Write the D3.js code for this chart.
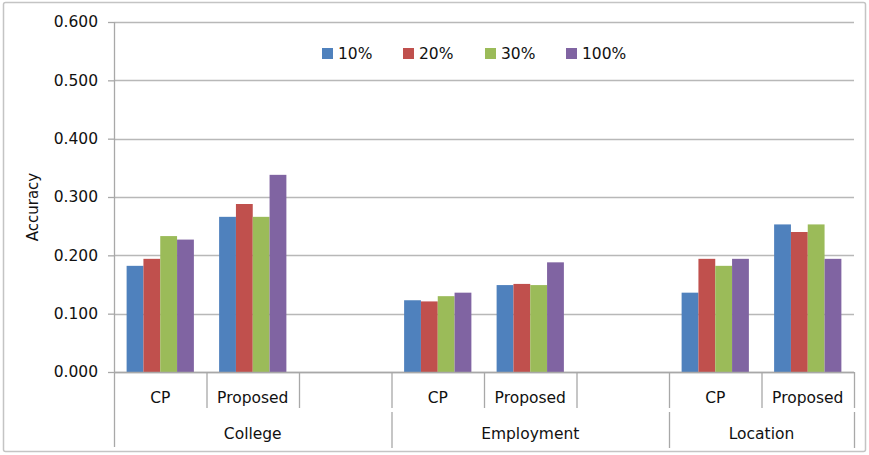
<!DOCTYPE html>
<html>
<head>
<meta charset="utf-8">
<script src="https://cdn.jsdelivr.net/npm/d3@7"></script>
<style>
  html, body { margin: 0; padding: 0; background: #fff; }
  svg { display: block; font-family: "DejaVu Sans", sans-serif; }
</style>
</head>
<body>
<svg id="chart" width="869" height="455"></svg>
<script>
// ---- data ----
const groups = ["College", "Employment", "Location"];
const subCategories = [["CP", "Proposed", ""], ["CP", "Proposed", ""], ["CP", "Proposed"]];
const seriesNames = ["10%", "20%", "30%", "100%"];
const seriesColors = ["#4F81BD", "#C0504D", "#9BBB59", "#8064A2"];
// values per series, in slot order: College CP, College Proposed, Employment CP, Employment Proposed, Location CP, Location Proposed
const s10  = [0.182, 0.266, 0.123, 0.149, 0.136, 0.253];
const s20  = [0.194, 0.288, 0.121, 0.151, 0.194, 0.240];
const s30  = [0.233, 0.266, 0.130, 0.149, 0.182, 0.253];
const s100 = [0.227, 0.338, 0.136, 0.188, 0.194, 0.194];
const seriesValues = [s10, s20, s30, s100];
const yTicks = [0, 0.1, 0.2, 0.3, 0.4, 0.5, 0.6];
const yTitle = "Accuracy";

// ---- layout ----
const svg = d3.select("#chart");
const mLeft = 114, mRight = 854, mTop = 22, mBottom = 372;

// slots
const slots = [];
groups.forEach((g, gi) => subCategories[gi].forEach((s, si) => slots.push({id: gi + "-" + si, group: g, gi, si, label: s})));
const dataSlots = slots.filter(s => s.label !== "");

const x = d3.scaleBand().domain(slots.map(s => s.id)).range([mLeft, mRight]).padding(0);
const xs = d3.scaleBand().domain(seriesNames).range([0, x.bandwidth()]).paddingInner(0).paddingOuter(0.75);
const y = d3.scaleLinear().domain([0, 0.6]).range([mBottom, mTop]);

// outer border
svg.append("rect").attr("x", 3.5).attr("y", 2.5).attr("width", 862).attr("height", 449)
  .attr("fill", "none").attr("stroke", "#c4c4c4").attr("stroke-width", 1.5).attr("rx", 2);

// gridlines
svg.append("g").selectAll("line").data(yTicks).join("line")
  .attr("x1", mLeft).attr("x2", mRight)
  .attr("y1", d => Math.round(y(d)) + 0.5).attr("y2", d => Math.round(y(d)) + 0.5)
  .attr("stroke", "#b8b8b8").attr("stroke-width", 1.3);

// y axis
const yAxis = d3.axisLeft(y).tickValues(yTicks).tickFormat(d3.format(".3f")).tickSize(6).tickPadding(10);
const ya = svg.append("g").attr("transform", `translate(${mLeft},0)`).call(yAxis);
ya.select(".domain").remove();
ya.selectAll(".tick line").attr("stroke", "#a8a8a8").attr("stroke-width", 1.3);
ya.selectAll(".tick text").attr("font-size", "15.5px").attr("fill", "#111").attr("font-family", "DejaVu Sans");

// y axis line (extends through category area)
svg.append("line").attr("x1", mLeft + 0.5).attr("x2", mLeft + 0.5).attr("y1", mTop).attr("y2", 447)
  .attr("stroke", "#a8a8a8").attr("stroke-width", 1.3);

// bars
const bars = svg.append("g");
dataSlots.forEach((slot, k) => {
  bars.selectAll(null).data(seriesNames.map((n, i) => ({n, i, v: seriesValues[i][k]}))).join("rect")
    .attr("x", d => x(slot.id) + xs(d.n))
    .attr("width", xs.bandwidth())
    .attr("y", d => y(d.v))
    .attr("height", d => y(0) - y(d.v))
    .attr("fill", d => seriesColors[d.i]);
});

// category axis line
svg.append("line").attr("x1", mLeft).attr("x2", mRight).attr("y1", mBottom + 0.5).attr("y2", mBottom + 0.5)
  .attr("stroke", "#a8a8a8").attr("stroke-width", 1.3);

// sub-category separators
const boundaries = slots.map(s => x(s.id)).concat([mRight]);
boundaries.forEach((bx, i) => {
  if (i === 0) return;
  svg.append("line").attr("x1", bx + 0.5).attr("x2", bx + 0.5).attr("y1", mBottom).attr("y2", 408)
    .attr("stroke", "#a8a8a8").attr("stroke-width", 1.3);
});
// group separators
const groupStarts = groups.map((g, gi) => x(slots.find(s => s.gi === gi).id));
const groupEnds = groups.map((g, gi) => { const ss = slots.filter(s => s.gi === gi); return x(ss[ss.length - 1].id) + x.bandwidth(); });
groupStarts.slice(1).concat([mRight]).forEach(bx => {
  svg.append("line").attr("x1", bx + 0.5).attr("x2", bx + 0.5).attr("y1", 412).attr("y2", 448)
    .attr("stroke", "#a8a8a8").attr("stroke-width", 1.3);
});

// sub-category labels
svg.append("g").selectAll("text").data(slots.filter(s => s.label)).join("text")
  .attr("x", s => x(s.id) + x.bandwidth() / 2).attr("y", 403)
  .attr("text-anchor", "middle").attr("font-size", "15.5px").attr("fill", "#111")
  .text(s => s.label);

// group labels
svg.append("g").selectAll("text").data(groups).join("text")
  .attr("x", (g, gi) => (groupStarts[gi] + groupEnds[gi]) / 2).attr("y", 439)
  .attr("text-anchor", "middle").attr("font-size", "15.5px").attr("fill", "#111")
  .text(g => g);

// y title
svg.append("text").attr("transform", "translate(38,207) rotate(-90)")
  .attr("text-anchor", "middle").attr("font-size", "15px").attr("fill", "#111").text(yTitle);

// legend
const legendX = [322, 403, 485, 566];
const lg = svg.append("g");
seriesNames.forEach((n, i) => {
  lg.append("rect").attr("x", legendX[i]).attr("y", 48).attr("width", 11).attr("height", 11).attr("fill", seriesColors[i]);
  lg.append("text").attr("x", legendX[i] + 16).attr("y", 59).attr("font-size", "15.5px").attr("fill", "#111").text(n);
});
</script>
</body>
</html>
